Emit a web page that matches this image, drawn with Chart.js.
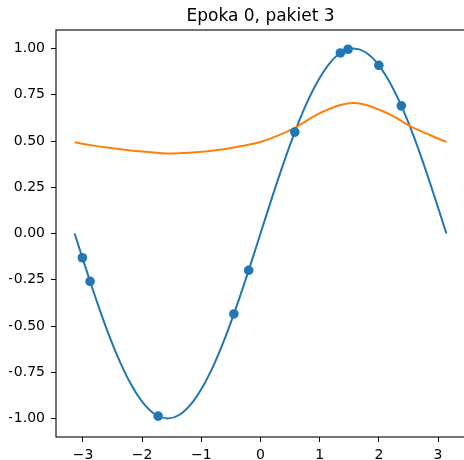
<!DOCTYPE html>
<html>
<head>
<meta charset="utf-8">
<script src="https://cdn.jsdelivr.net/npm/chart.js@4/dist/chart.umd.min.js"></script>
<style>
  html, body { margin: 0; padding: 0; background: #fff; overflow: hidden; }
  #frame { position: absolute; left: 9px; top: 0; width: 455px; height: 460px; overflow: hidden; }
  #plot { position: absolute; left: -9px; top: 0; }
</style>
</head>
<body>
<div id="frame"><canvas id="plot" width="470" height="460" style="width:470px;height:460px"></canvas></div>
<script>
const titleText = "Epoka 0, pakiet 3";

// target function sampled across [-pi, pi]
const curveX = [-3.142, -2.945, -2.749, -2.553, -2.356, -2.160, -1.963, -1.767, -1.571,
  -1.374, -1.178, -0.982, -0.785, -0.589, -0.393, -0.196, 0.000,
  0.196, 0.393, 0.589, 0.785, 0.982, 1.178, 1.374, 1.571,
  1.767, 1.963, 2.160, 2.356, 2.553, 2.749, 2.945, 3.142];
const curveY = [0.000, -0.195, -0.383, -0.556, -0.707, -0.831, -0.924, -0.981, -1.000,
  -0.981, -0.924, -0.831, -0.707, -0.556, -0.383, -0.195, 0.000,
  0.195, 0.383, 0.556, 0.707, 0.831, 0.924, 0.981, 1.000,
  0.981, 0.924, 0.831, 0.707, 0.556, 0.383, 0.195, 0.000];

// network output
const fitX = [-3.142, -2.82, -2.50, -2.20, -1.90, -1.55, -1.20, -0.90, -0.60, -0.30,
  0.00, 0.27, 0.61, 0.89, 1.11, 1.35, 1.57, 1.79, 2.03, 2.25, 2.53, 2.87, 3.142];
const fitY = [0.493, 0.475, 0.461, 0.449, 0.440, 0.432, 0.436, 0.444, 0.457, 0.474,
  0.495, 0.526, 0.577, 0.632, 0.666, 0.695, 0.705, 0.695, 0.666, 0.633, 0.580, 0.531, 0.495];

// current batch
const batchX = [-3.01, -2.88, -1.73, -0.45, -0.20, 0.58, 1.35, 1.48, 2.00, 2.38];
const batchY = [-0.131, -0.259, -0.987, -0.435, -0.199, 0.548, 0.976, 0.996, 0.909, 0.690];

const xTicks = [-3, -2, -1, 0, 1, 2, 3];
const yTicks = [-1, -0.75, -0.5, -0.25, 0, 0.25, 0.5, 0.75, 1];

const blue = "#1f77b4";
const orange = "#ff7f0e";
const font = "DejaVu Sans";

const toPoints = (xs, ys) => xs.map((x, i) => ({ x, y: ys[i] }));
const minus = (s) => s.replace("-", "\u2212");

// box around the axes plus the title centred over them
const frameBox = {
  id: "frameBox",
  afterDraw(chart) {
    const { ctx, chartArea: a } = chart;
    ctx.save();
    ctx.strokeStyle = "#000";
    ctx.lineWidth = 1.1;
    ctx.strokeRect(a.left, a.top, a.right - a.left, a.bottom - a.top);
    ctx.fillStyle = "#000";
    ctx.font = `17px "${font}"`;
    ctx.textAlign = "center";
    ctx.textBaseline = "middle";
    ctx.fillText(titleText, (a.left + a.right) / 2, 16.5);
    ctx.restore();
  },
};

new Chart(document.getElementById("plot"), {
  type: "scatter",
  data: {
    datasets: [
      {
        label: "batch",
        data: toPoints(batchX, batchY),
        backgroundColor: blue,
        borderWidth: 0,
        pointRadius: 4.8,
        order: 0,
      },
      {
        label: "model",
        data: toPoints(fitX, fitY),
        showLine: true,
        borderColor: orange,
        borderWidth: 2,
        pointRadius: 0,
        cubicInterpolationMode: "monotone",
        order: 1,
      },
      {
        label: "sin",
        data: toPoints(curveX, curveY),
        showLine: true,
        borderColor: blue,
        borderWidth: 2,
        pointRadius: 0,
        cubicInterpolationMode: "monotone",
        order: 2,
      },
    ],
  },
  options: {
    responsive: false,
    animation: false,
    layout: { padding: { top: 30, right: 5, left: 0, bottom: 0 } },
    plugins: {
      legend: { display: false },
      tooltip: { enabled: false },
      title: { display: false },
    },
    scales: {
      x: {
        type: "linear",
        min: -3.456,
        max: 3.456,
        afterBuildTicks: (scale) => {
          scale.ticks = xTicks.map((value) => ({ value }));
        },
        afterFit: (scale) => {
          scale.height = 23;
        },
        grid: { drawOnChartArea: false, drawTicks: true, tickLength: 5, tickColor: "#000", lineWidth: 1 },
        border: { display: false },
        ticks: {
          color: "#000",
          padding: 5,
          maxRotation: 0,
          font: { family: font, size: 14 },
          callback: (value) => minus(String(value)),
        },
      },
      y: {
        type: "linear",
        min: -1.1,
        max: 1.1,
        afterBuildTicks: (scale) => {
          scale.ticks = yTicks.map((value) => ({ value }));
        },
        afterFit: (scale) => {
          scale.width = 56;
        },
        grid: { drawOnChartArea: false, drawTicks: true, tickLength: 5, tickColor: "#000", lineWidth: 1 },
        border: { display: false },
        ticks: {
          color: "#000",
          padding: 6,
          font: { family: font, size: 14 },
          callback: (value) => minus(Number(value).toFixed(2)),
        },
      },
    },
  },
  plugins: [frameBox],
});
</script>
</body>
</html>
